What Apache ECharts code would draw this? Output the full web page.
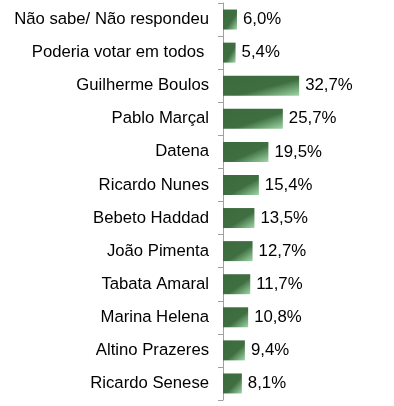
<!DOCTYPE html>
<html><head><meta charset="utf-8">
<script src="https://cdn.jsdelivr.net/npm/echarts@6/dist/echarts.min.js"></script>
<style>html,body{margin:0;padding:0;background:#fff}#c{width:394px;height:406px}</style>
</head><body><div id="c"></div>
<script>
const categories = ["Não sabe/ Não respondeu","Poderia votar em todos ","Guilherme Boulos","Pablo Marçal","Datena","Ricardo Nunes","Bebeto Haddad","João Pimenta","Tabata Amaral","Marina Helena","Altino Prazeres","Ricardo Senese"];
const values = [6.0,5.4,32.7,25.7,19.5,15.4,13.5,12.7,11.7,10.8,9.4,8.1];

const GRID_LEFT = 223, GRID_RIGHT = 8, X_MAX = 70, BAR_H = 20;
const pxPerUnit = (394 - GRID_LEFT - GRID_RIGHT) / X_MAX;

function barColor(v){
  // gradient stretched with the shape: isolines run along the anti-diagonal
  const w = Math.max(v * pxPerUnit, 1), h = BAR_H;
  const d = w*w + h*h;
  return new echarts.graphic.LinearGradient(0, 0, 2*h*h/d, 2*w*w/d, [
    {offset:0, color:'#3c6a3d'},
    {offset:0.58, color:'#3f6f41'},
    {offset:1, color:'#9fd8a8'}
  ]);
}

const chart = echarts.init(document.getElementById('c'));
chart.setOption({
  animation:false,
  backgroundColor:'#fff',
  grid:{left:GRID_LEFT,top:3,height:397,right:GRID_RIGHT,containLabel:false},
  xAxis:{type:'value',min:0,max:X_MAX,show:false},
  yAxis:{type:'category',inverse:true,data:categories,
    axisLine:{show:true,lineStyle:{color:'#a0a0a0',width:1}},
    axisTick:{show:true,length:5,lineStyle:{color:'#a0a0a0'}},
    axisLabel:{margin:14,color:'#000',fontFamily:'Liberation Sans, Arial',fontSize:16.7}
  },
  series:[{type:'bar',barWidth:BAR_H,
    data:values.map(v=>({value:v,itemStyle:{color:barColor(v)}})),
    label:{show:true,position:'right',distance:6,color:'#000',fontFamily:'Liberation Sans, Arial',fontSize:16.8,
      formatter:p=>p.value.toFixed(1).replace('.',',')+'%'}
  }]
});
</script></body></html>
